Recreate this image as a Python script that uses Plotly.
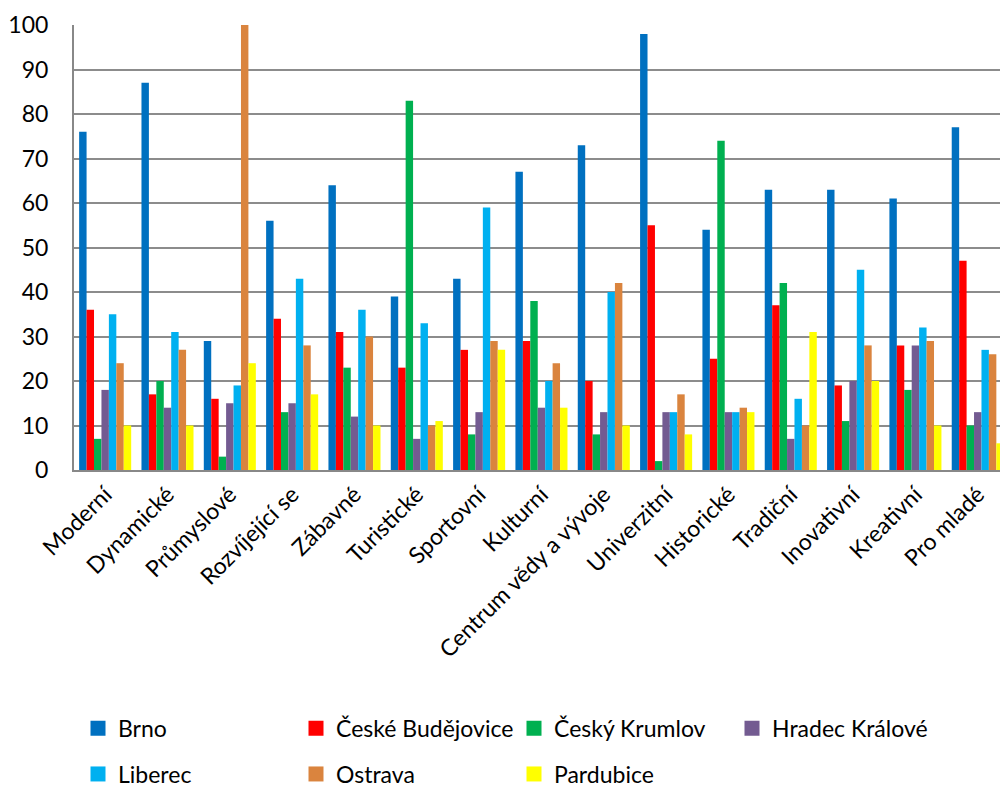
import plotly.graph_objects as go

categories = ["Moderní", "Dynamické", "Průmyslové", "Rozvíjející se", "Zábavné",
              "Turistické", "Sportovní", "Kulturní", "Centrum vědy a vývoje",
              "Univerzitní", "Historické", "Tradiční", "Inovativní", "Kreativní",
              "Pro mladé"]

brno = [76, 87, 29, 56, 64, 39, 43, 67, 73, 98, 54, 63, 63, 61, 77]
ceske_budejovice = [36, 17, 16, 34, 31, 23, 27, 29, 20, 55, 25, 37, 19, 28, 47]
cesky_krumlov = [7, 20, 3, 13, 23, 83, 8, 38, 8, 2, 74, 42, 11, 18, 10]
hradec_kralove = [18, 14, 15, 15, 12, 7, 13, 14, 13, 13, 13, 7, 20, 28, 13]
liberec = [35, 31, 19, 43, 36, 33, 59, 20, 40, 13, 13, 16, 45, 32, 27]
ostrava = [24, 27, 100, 28, 30, 10, 29, 24, 42, 17, 14, 10, 28, 29, 26]
pardubice = [10, 10, 24, 17, 10, 11, 27, 14, 10, 8, 13, 31, 20, 10, 6]

y_ticks = [0, 10, 20, 30, 40, 50, 60, 70, 80, 90, 100]

series = [
    ("Brno", brno, "#0070C0", "legend"),
    ("České Budějovice", ceske_budejovice, "#FF0000", "legend"),
    ("Český Krumlov", cesky_krumlov, "#00B050", "legend"),
    ("Hradec Králové", hradec_kralove, "#735B91", "legend"),
    ("Liberec", liberec, "#00B0F0", "legend2"),
    ("Ostrava", ostrava, "#DA843E", "legend2"),
    ("Pardubice", pardubice, "#FFFF00", "legend2"),
]

FONT = "Lato, 'Open Sans', sans-serif"
FS = 23

fig = go.Figure()
for name, vals, color, leg in series:
    fig.add_trace(go.Bar(
        x=categories, y=vals, name=name, showlegend=False,
        marker=dict(color=color, line=dict(width=0)),
    ))
# square legend keys (bigger than the default bar swatch)
for name, vals, color, leg in series:
    fig.add_trace(go.Scatter(
        x=[None], y=[None], mode="markers", name=name, legend=leg,
        marker=dict(symbol="square", size=15, color=color),
    ))

legend_common = dict(
    orientation="h", xref="container", yref="container",
    xanchor="left", yanchor="middle",
    entrywidth=173, entrywidthmode="pixels", itemsizing="trace",
    font=dict(family=FONT, size=FS), bgcolor="rgba(0,0,0,0)",
    itemclick=False, itemdoubleclick=False,
)

fig.update_layout(
    width=1000, height=789,
    margin=dict(l=74, r=0, t=25, b=319),
    paper_bgcolor="white", plot_bgcolor="white",
    barmode="group", bargap=0.165, bargroupgap=0,
    font=dict(family=FONT, size=FS, color="black"),
    showlegend=True,
    legend=dict(x=0.078, y=0.077, **legend_common),
    legend2=dict(x=0.078, y=0.019, **legend_common),
)

fig.update_xaxes(
    range=[-0.5, 14.357], tickangle=-45, showgrid=False,
    showline=True, linecolor="#888888", linewidth=2,
    ticks="", tickfont=dict(family=FONT, size=FS),
)
fig.update_yaxes(
    range=[0, 100], tickvals=y_ticks, showgrid=True, gridcolor="#8C8C8C",
    gridwidth=2, showline=True, linecolor="#888888", linewidth=2,
    ticks="", ticklabelstandoff=19, tickfont=dict(family=FONT, size=FS),
    zeroline=False,
)

fig.write_html("out.html")
